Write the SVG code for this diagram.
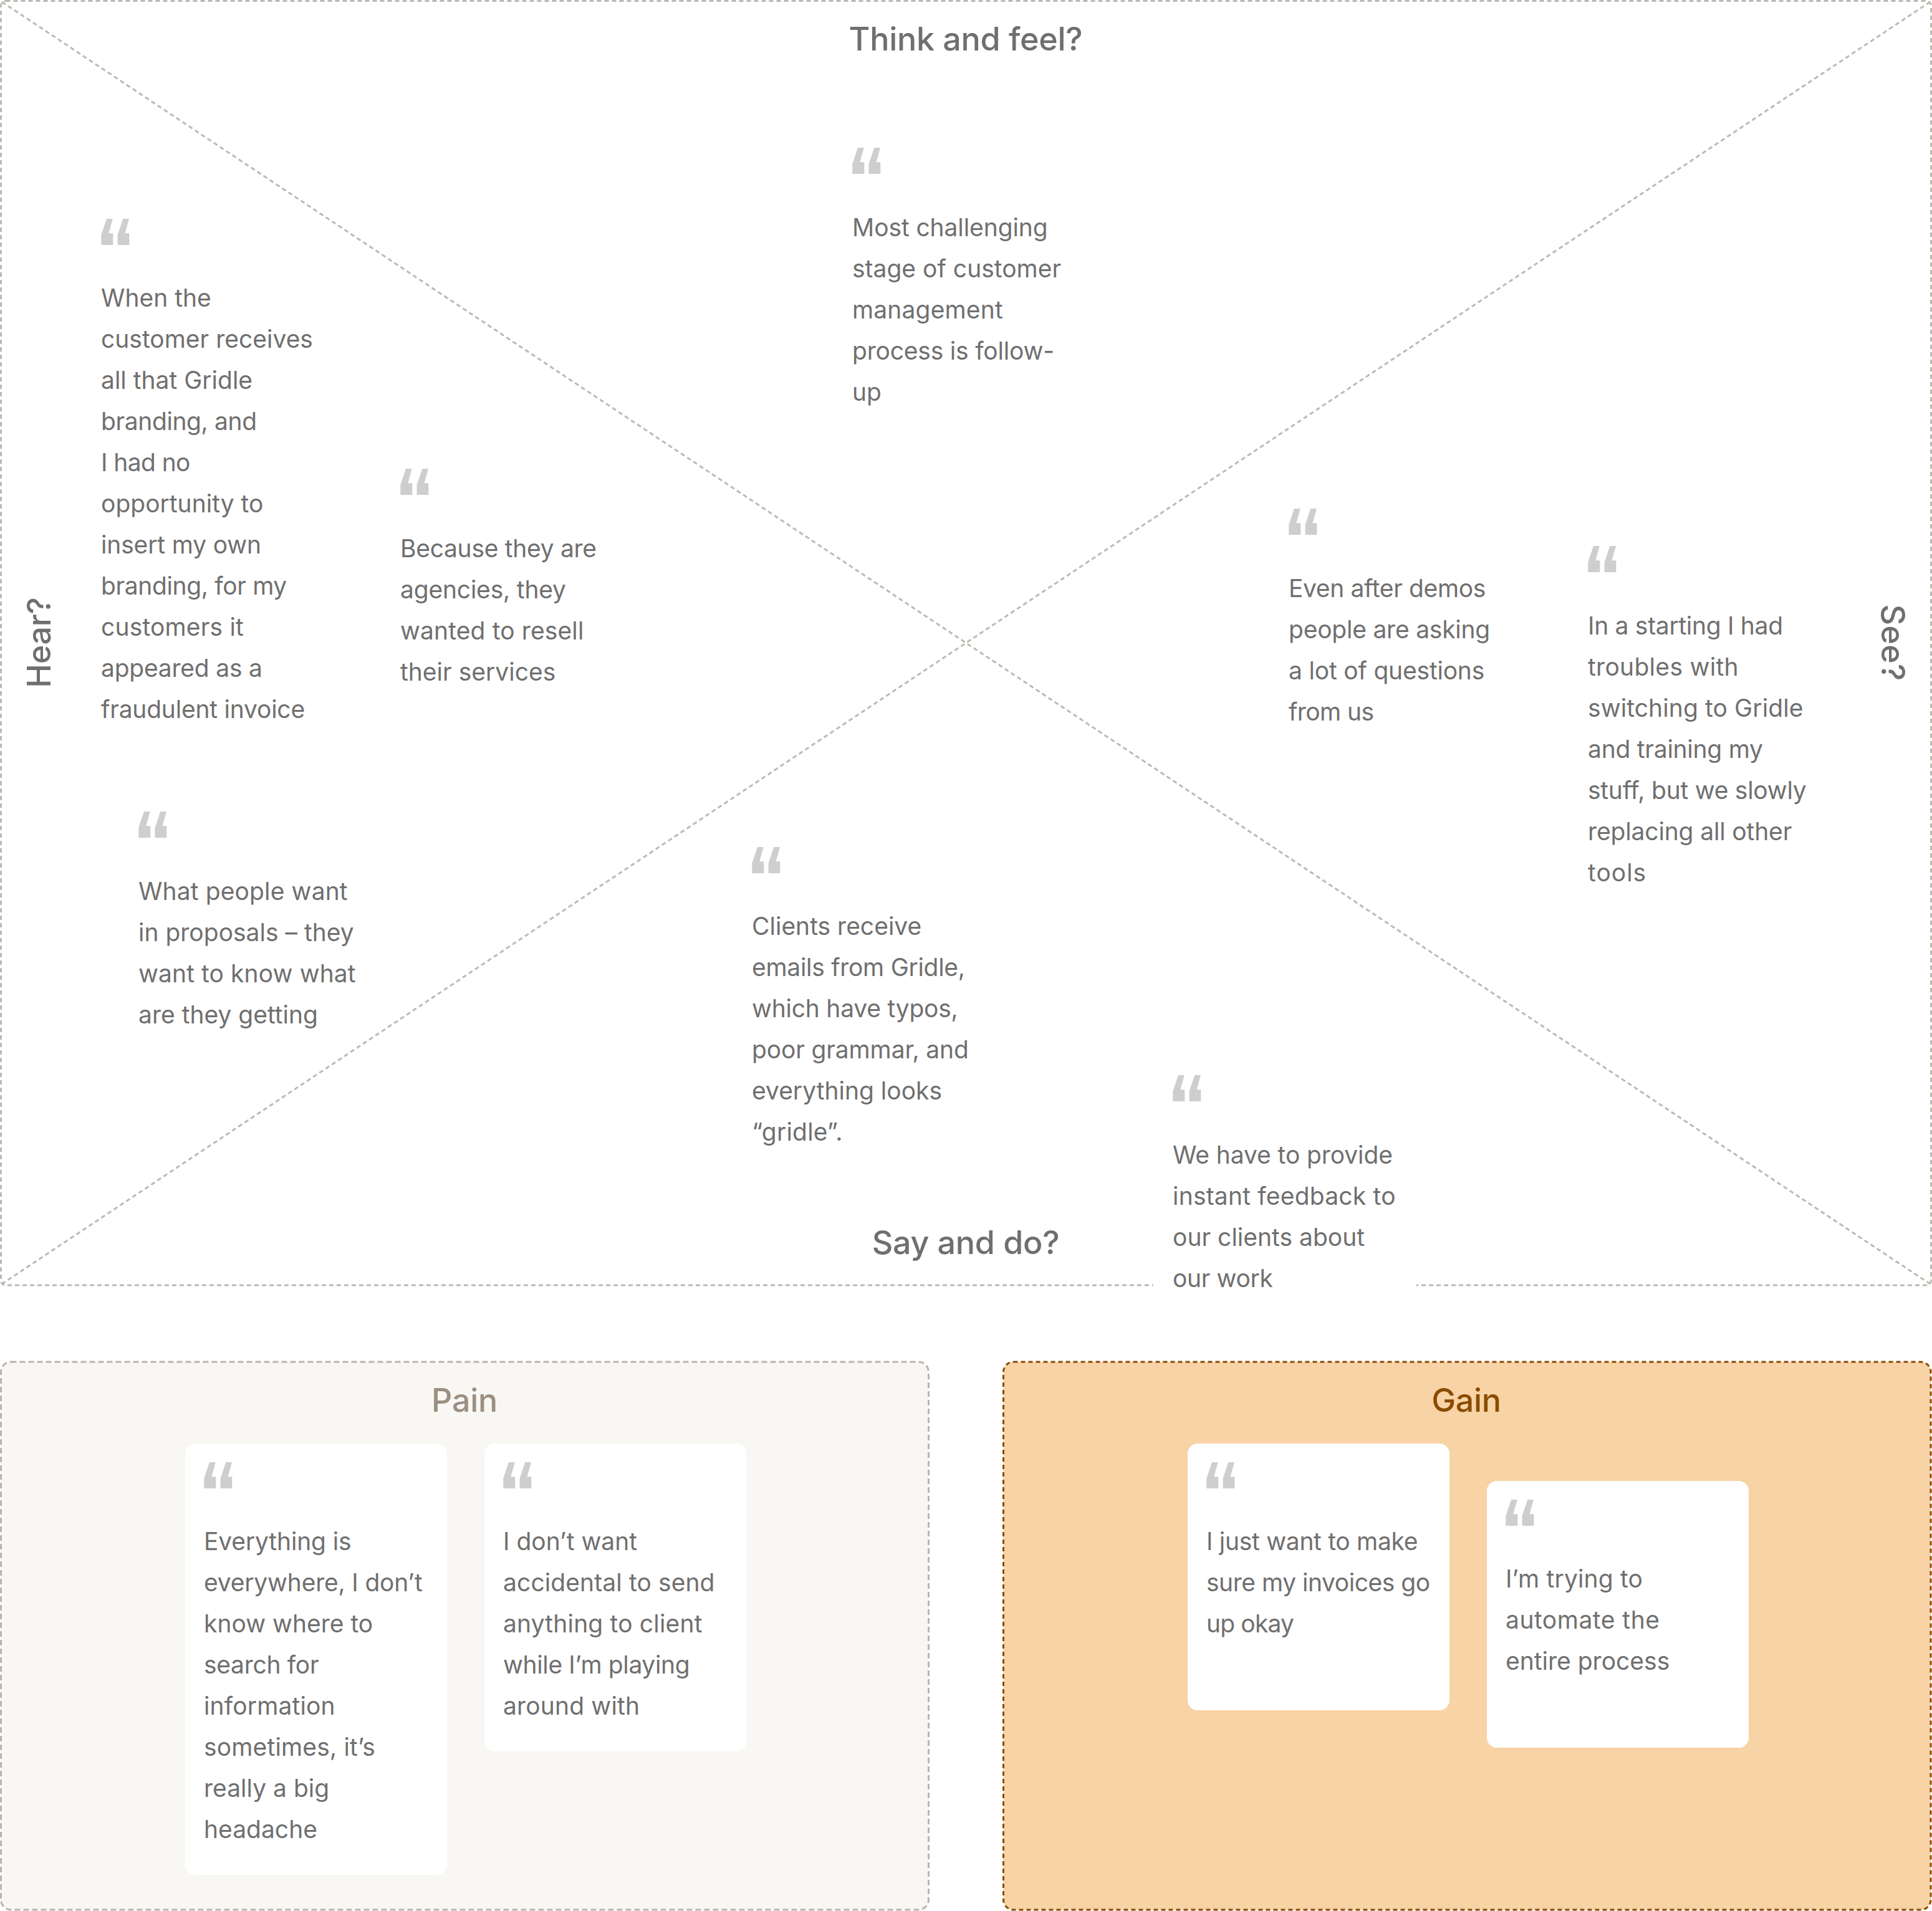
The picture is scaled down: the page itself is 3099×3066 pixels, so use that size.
<svg xmlns="http://www.w3.org/2000/svg" xmlns:xlink="http://www.w3.org/1999/xlink" width="3099" height="3066" viewBox="0 0 3099 3066">
<style>
.t{font-family:"Inter","Noto Sans",sans-serif;font-size:39px;fill:#6f6f6f;letter-spacing:0}
.h{font-family:"Inter","Noto Sans",sans-serif;font-size:52px;font-weight:500;fill:#6f6f6f;letter-spacing:-.3px;text-anchor:middle}
.d{fill:none;stroke:#bdbab3;stroke-width:3;stroke-dasharray:7 5}
.card{fill:#fff}
</style>
<defs>
<g id="q"><path fill="#cecece" d="M9 0H18.800L12.300 23.300H19.300V42H.3V26ZM35.300 0H45L38.600 23.300H45.300V42H26.600V26Z"/></g>
</defs>
<rect width="3099" height="3066" fill="#fff"/>
<g id="frame"><rect class="d" x="1.500" y="1.500" width="3096" height="2060.500" rx="8"/></g>
<g id="connectors">
<line class="d" x1="3" y1="3" x2="3096" y2="2060"/>
<line class="d" x1="3096" y1="3" x2="3" y2="2060"/>
</g>
<g id="label-think"><text class="h" x="1549" y="81">Think and feel?</text></g>
<g id="label-say"><text class="h" x="1549" y="2012">Say and do?</text></g>
<g id="label-hear"><text class="h" transform="translate(81 1031) rotate(-90)">Hear?</text></g>
<g id="label-see"><text class="h" transform="translate(3018 1031) rotate(90)" style="letter-spacing:.2px">See?</text></g>
<g id="q1"><use xlink:href="#q" x="162" y="351"/><text class="t"><tspan x="162" y="492">When the</tspan><tspan x="162" dy="66">customer receives</tspan><tspan x="162" dy="66">all that Gridle</tspan><tspan x="162" dy="66" letter-spacing="-.4">branding, and</tspan><tspan x="162" dy="66" letter-spacing="-.6">I had no</tspan><tspan x="162" dy="66">opportunity to</tspan><tspan x="162" dy="66" letter-spacing="-.15">insert my own</tspan><tspan x="162" dy="66" letter-spacing="-.37">branding, for my</tspan><tspan x="162" dy="66" letter-spacing=".16">customers it</tspan><tspan x="162" dy="66" letter-spacing="-.23">appeared as a</tspan><tspan x="162" dy="66" letter-spacing="-.22">fraudulent invoice</tspan></text></g>
<g id="q2"><use xlink:href="#q" x="642" y="752"/><text class="t"><tspan x="642" y="894" letter-spacing="-.3">Because they are</tspan><tspan x="642" dy="66" letter-spacing="-.2">agencies, they</tspan><tspan x="642" dy="66" letter-spacing=".12">wanted to resell</tspan><tspan x="642" dy="66">their services</tspan></text></g>
<g id="q3"><use xlink:href="#q" x="1367" y="237"/><text class="t"><tspan x="1367" y="379" letter-spacing="-.1">Most challenging</tspan><tspan x="1367" dy="66">stage of customer</tspan><tspan x="1367" dy="66" letter-spacing=".15">management</tspan><tspan x="1367" dy="66" letter-spacing="-.2">process is follow-</tspan><tspan x="1367" dy="66">up</tspan></text></g>
<g id="q4"><use xlink:href="#q" x="2067" y="816"/><text class="t"><tspan x="2067" y="958" letter-spacing="-.37">Even after demos</tspan><tspan x="2067" dy="66" letter-spacing="-.23">people are asking</tspan><tspan x="2067" dy="66" letter-spacing="-.2">a lot of questions</tspan><tspan x="2067" dy="66" letter-spacing="-.6">from us</tspan></text></g>
<g id="q5"><use xlink:href="#q" x="2547" y="876"/><text class="t"><tspan x="2547" y="1018" letter-spacing="-.3">In a starting I had</tspan><tspan x="2547" dy="66" letter-spacing=".3">troubles with</tspan><tspan x="2547" dy="66" letter-spacing=".1">switching to Gridle</tspan><tspan x="2547" dy="66" letter-spacing="-.25">and training my</tspan><tspan x="2547" dy="66" letter-spacing="-.25">stuff, but we slowly</tspan><tspan x="2547" dy="66" letter-spacing="-.15">replacing all other</tspan><tspan x="2547" dy="66" letter-spacing="1">tools</tspan></text></g>
<g id="q6"><use xlink:href="#q" x="222" y="1302"/><text class="t"><tspan x="222" y="1444" letter-spacing=".12">What people want</tspan><tspan x="222" dy="66">in proposals – they</tspan><tspan x="222" dy="66" letter-spacing=".1">want to know what</tspan><tspan x="222" dy="66">are they getting</tspan></text></g>
<g id="q7"><use xlink:href="#q" x="1206" y="1359"/><text class="t"><tspan x="1206" y="1500">Clients receive</tspan><tspan x="1206" dy="66" letter-spacing="-.3">emails from Gridle,</tspan><tspan x="1206" dy="66" letter-spacing="-.23">which have typos,</tspan><tspan x="1206" dy="66" letter-spacing="-.15">poor grammar, and</tspan><tspan x="1206" dy="66">everything looks</tspan><tspan x="1206" dy="66" letter-spacing=".2">“gridle”.</tspan></text></g>
<g id="q8"><rect class="card" x="1850" y="1694" width="422" height="440"/><use xlink:href="#q" x="1881" y="1725"/><text class="t"><tspan x="1881" y="1867" letter-spacing="-.1">We have to provide</tspan><tspan x="1881" dy="66" letter-spacing=".2">instant feedback to</tspan><tspan x="1881" dy="66">our clients about</tspan><tspan x="1881" dy="66" letter-spacing="-.37">our work</tspan></text></g>
<g id="pain"><rect x="1.500" y="2185" width="1488" height="879" rx="16" fill="#f8f7f3" stroke="#b8b5ae" stroke-width="3" stroke-dasharray="9 5"/><text class="h" x="745" y="2265" style="fill:#9c8f81">Pain</text></g>
<g id="gain"><rect x="1609.500" y="2185" width="1487.500" height="879" rx="16" fill="#f7d3a5" stroke="#8a4b00" stroke-width="3" stroke-dasharray="7 5"/><text class="h" x="2352" y="2265" style="fill:#8a4b00">Gain</text></g>
<g id="p1"><rect class="card" x="297" y="2316" width="420" height="692" rx="16"/><use xlink:href="#q" x="327" y="2346"/><text class="t"><tspan x="327" y="2487" letter-spacing="-.15">Everything is</tspan><tspan x="327" dy="66" letter-spacing="-.2">everywhere, I don’t</tspan><tspan x="327" dy="66">know where to</tspan><tspan x="327" dy="66" letter-spacing="-.3">search for</tspan><tspan x="327" dy="66" letter-spacing=".15">information</tspan><tspan x="327" dy="66" letter-spacing=".15">sometimes, it’s</tspan><tspan x="327" dy="66">really a big</tspan><tspan x="327" dy="66">headache</tspan></text></g>
<g id="p2"><rect class="card" x="777" y="2316" width="420" height="494" rx="16"/><use xlink:href="#q" x="807" y="2346"/><text class="t"><tspan x="807" y="2487">I don’t want</tspan><tspan x="807" dy="66" letter-spacing=".1">accidental to send</tspan><tspan x="807" dy="66" letter-spacing=".17">anything to client</tspan><tspan x="807" dy="66" letter-spacing="-.37">while I’m playing</tspan><tspan x="807" dy="66" letter-spacing=".15">around with</tspan></text></g>
<g id="g1"><rect class="card" x="1905" y="2316" width="420" height="428" rx="16"/><use xlink:href="#q" x="1935" y="2346"/><text class="t"><tspan x="1935" y="2487" letter-spacing="-.3">I just want to make</tspan><tspan x="1935" dy="66" letter-spacing="-.47">sure my invoices go</tspan><tspan x="1935" dy="66" letter-spacing="-.85">up okay</tspan></text></g>
<g id="g2"><rect class="card" x="2385" y="2376" width="420" height="428" rx="16"/><use xlink:href="#q" x="2415" y="2406"/><text class="t"><tspan x="2415" y="2547" letter-spacing=".15">I’m trying to</tspan><tspan x="2415" dy="66" letter-spacing=".5">automate the</tspan><tspan x="2415" dy="66">entire process</tspan></text></g>
</svg>
